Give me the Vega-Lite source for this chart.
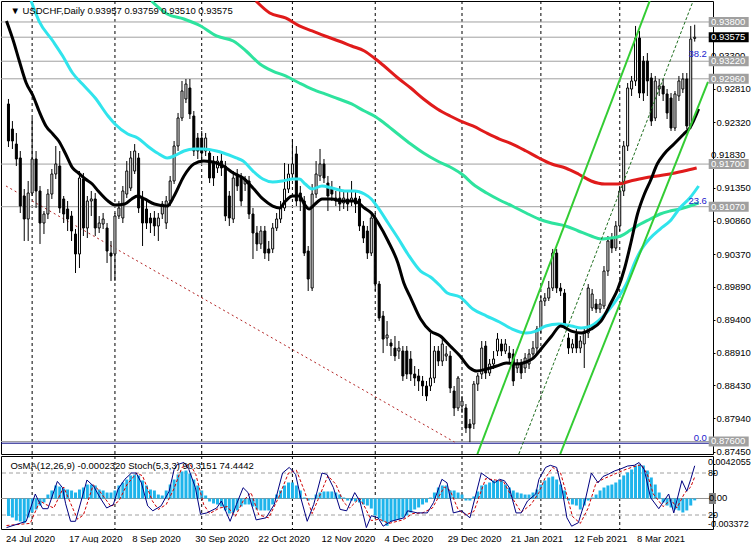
{
"$schema":"https://vega.github.io/schema/vega-lite/v6.json",
"background":"#FFFFFF",
"padding":0,
"spacing":2,
"bounds":"flush",
"config":{"view":{"stroke":"#000000","strokeWidth":1},"font":"Liberation Sans"},
"datasets":{
"months":[{"i":6},{"i":27},{"i":49},{"i":72},{"i":93},{"i":115},{"i":135},{"i":155}],
"levels":[{"p":0.938,"kind":"level"},{"p":0.93575,"kind":"bid"},{"p":0.9322,"kind":"level"},{"p":0.9296,"kind":"level"},{"p":0.917,"kind":"level"},{"p":0.9107,"kind":"level"},{"p":0.876,"kind":"level"}],
"covered":[{"p":0.933},{"p":0.9183}],
"header":[{"t":"▼ USDCHF,Daily  0.93957 0.93759 0.93510 0.93575"}],
"subheader":[{"t":"OsMA(12,26,9) -0.0002320  Stoch(5,3,3) 90.3151 74.4442"}],
"fib":[{"level":"0.0","p":0.87575},{"level":"23.6","p":0.9108},{"level":"38.2","p":0.9325}],
"trend":[{"line":"down","i":-0.625,"p":0.91376},{"line":"down","i":113.1,"p":0.87592},{"line":"chanA","i":118.9,"p":0.87415},{"line":"chanA","i":162.6,"p":0.9411},{"line":"chanB","i":139.9,"p":0.87415},{"line":"chanB","i":177.375,"p":0.92913},{"line":"chanC","i":129.4,"p":0.87415},{"line":"chanC","i":173.6,"p":0.9411}],
"candles":[
{"i":0,"o":0.92588,"h":0.92662,"l":0.91952,"c":0.92041},{"i":1,"o":0.92218,"h":0.92336,"l":0.91923,"c":0.92041},{"i":2,"o":0.91996,"h":0.92159,"l":0.91671,"c":0.91775},{"i":3,"o":0.9179,"h":0.91893,"l":0.90977,"c":0.9108},{"i":4,"o":0.91228,"h":0.91331,"l":0.90563,"c":0.90888},{"i":5,"o":0.90888,"h":0.9145,"l":0.90563,"c":0.91272},{"i":6,"o":0.91272,"h":0.92381,"l":0.91228,"c":0.91775},{"i":7,"o":0.91775,"h":0.91893,"l":0.91051,"c":0.91302},{"i":8,"o":0.91302,"h":0.91376,"l":0.90519,"c":0.90829},{"i":9,"o":0.90829,"h":0.91006,"l":0.90666,"c":0.90962},
{"i":10,"o":0.90962,"h":0.91331,"l":0.90888,"c":0.91257},{"i":11,"o":0.91257,"h":0.91627,"l":0.91184,"c":0.91553},{"i":12,"o":0.91553,"h":0.91967,"l":0.91479,"c":0.91701},{"i":13,"o":0.91671,"h":0.91893,"l":0.90977,"c":0.91051},{"i":14,"o":0.91184,"h":0.91228,"l":0.90829,"c":0.90962},{"i":15,"o":0.91036,"h":0.91154,"l":0.90711,"c":0.90888},{"i":16,"o":0.90932,"h":0.91006,"l":0.90563,"c":0.90711},{"i":17,"o":0.90666,"h":0.9074,"l":0.9009,"c":0.90371},{"i":18,"o":0.90371,"h":0.91597,"l":0.90164,"c":0.91494},{"i":19,"o":0.91479,"h":0.91568,"l":0.90637,"c":0.90755},
{"i":20,"o":0.90755,"h":0.91228,"l":0.90607,"c":0.91154},{"i":21,"o":0.91154,"h":0.91302,"l":0.90932,"c":0.91184},{"i":22,"o":0.91184,"h":0.91272,"l":0.90637,"c":0.90755},{"i":23,"o":0.90755,"h":0.90932,"l":0.90681,"c":0.90829},{"i":24,"o":0.90814,"h":0.90977,"l":0.9074,"c":0.90888},{"i":25,"o":0.90755,"h":0.90829,"l":0.90238,"c":0.90415},{"i":26,"o":0.90385,"h":0.90563,"l":0.89972,"c":0.90341},{"i":27,"o":0.90371,"h":0.90977,"l":0.89972,"c":0.90932},{"i":28,"o":0.90932,"h":0.91154,"l":0.90888,"c":0.91051},{"i":29,"o":0.90903,"h":0.91376,"l":0.90829,"c":0.91302},
{"i":30,"o":0.91257,"h":0.91745,"l":0.91198,"c":0.91597},{"i":31,"o":0.91346,"h":0.91893,"l":0.91302,"c":0.9179},{"i":32,"o":0.91597,"h":0.91996,"l":0.91553,"c":0.91893},{"i":33,"o":0.9179,"h":0.91863,"l":0.90977,"c":0.91051},{"i":34,"o":0.91198,"h":0.91302,"l":0.90489,"c":0.90829},{"i":35,"o":0.91036,"h":0.91154,"l":0.9074,"c":0.90829},{"i":36,"o":0.90903,"h":0.90977,"l":0.90681,"c":0.90829},{"i":37,"o":0.90903,"h":0.91006,"l":0.90637,"c":0.90785},{"i":38,"o":0.90785,"h":0.90977,"l":0.90563,"c":0.90903},{"i":39,"o":0.90962,"h":0.91154,"l":0.90888,"c":0.9111},
{"i":40,"o":0.90829,"h":0.91228,"l":0.9074,"c":0.91154},{"i":41,"o":0.91154,"h":0.91524,"l":0.9108,"c":0.9145},{"i":42,"o":0.9145,"h":0.92041,"l":0.91405,"c":0.91967},{"i":43,"o":0.91967,"h":0.92455,"l":0.91893,"c":0.92381},{"i":44,"o":0.92381,"h":0.92928,"l":0.92336,"c":0.9278},{"i":45,"o":0.92662,"h":0.92957,"l":0.92602,"c":0.92883},{"i":46,"o":0.92824,"h":0.92957,"l":0.92366,"c":0.9244},{"i":47,"o":0.9241,"h":0.92484,"l":0.91819,"c":0.91893},{"i":48,"o":0.92085,"h":0.92159,"l":0.91775,"c":0.91893},{"i":49,"o":0.92085,"h":0.92189,"l":0.91745,"c":0.91863},
{"i":50,"o":0.91893,"h":0.92159,"l":0.91819,"c":0.92085},{"i":51,"o":0.91863,"h":0.91923,"l":0.9142,"c":0.91494},{"i":52,"o":0.91745,"h":0.91819,"l":0.91376,"c":0.91494},{"i":53,"o":0.91642,"h":0.91819,"l":0.91568,"c":0.91745},{"i":54,"o":0.91745,"h":0.91893,"l":0.91524,"c":0.91642},{"i":55,"o":0.91671,"h":0.91745,"l":0.90858,"c":0.90932},{"i":56,"o":0.91228,"h":0.91302,"l":0.90785,"c":0.90903},{"i":57,"o":0.90888,"h":0.91597,"l":0.90829,"c":0.91494},{"i":58,"o":0.91553,"h":0.91627,"l":0.91302,"c":0.91376},{"i":59,"o":0.91494,"h":0.91568,"l":0.9108,"c":0.91154},
{"i":60,"o":0.91405,"h":0.91524,"l":0.91302,"c":0.91479},{"i":61,"o":0.9145,"h":0.91524,"l":0.90888,"c":0.90962},{"i":62,"o":0.90962,"h":0.91051,"l":0.90297,"c":0.90681},{"i":63,"o":0.90681,"h":0.90785,"l":0.90415,"c":0.90519},{"i":64,"o":0.90519,"h":0.90785,"l":0.90445,"c":0.90711},{"i":65,"o":0.90711,"h":0.90785,"l":0.90297,"c":0.90385},{"i":66,"o":0.90445,"h":0.90563,"l":0.90267,"c":0.90385},{"i":67,"o":0.90445,"h":0.90829,"l":0.90385,"c":0.90755},{"i":68,"o":0.90755,"h":0.90977,"l":0.90711,"c":0.90888},{"i":69,"o":0.90888,"h":0.91154,"l":0.90829,"c":0.91051},
{"i":70,"o":0.91051,"h":0.91716,"l":0.91006,"c":0.91331},{"i":71,"o":0.91331,"h":0.91701,"l":0.91272,"c":0.91553},{"i":72,"o":0.91553,"h":0.9207,"l":0.91479,"c":0.91701},{"i":73,"o":0.91849,"h":0.91967,"l":0.9108,"c":0.91154},{"i":74,"o":0.91272,"h":0.91376,"l":0.91006,"c":0.91154},{"i":75,"o":0.91154,"h":0.91228,"l":0.90341,"c":0.90385},{"i":76,"o":0.90415,"h":0.90489,"l":0.89824,"c":0.90001},{"i":77,"o":0.89868,"h":0.91405,"l":0.89824,"c":0.91257},{"i":78,"o":0.91257,"h":0.91745,"l":0.91198,"c":0.91553},{"i":79,"o":0.91524,"h":0.91923,"l":0.9145,"c":0.91701},
{"i":80,"o":0.91701,"h":0.91775,"l":0.9142,"c":0.91494},{"i":81,"o":0.9142,"h":0.91524,"l":0.91006,"c":0.91228},{"i":82,"o":0.91346,"h":0.9145,"l":0.91154,"c":0.91257},{"i":83,"o":0.91154,"h":0.91302,"l":0.9108,"c":0.91198},{"i":84,"o":0.91198,"h":0.91376,"l":0.91006,"c":0.9111},{"i":85,"o":0.91124,"h":0.91302,"l":0.91036,"c":0.91198},{"i":86,"o":0.91184,"h":0.91302,"l":0.91006,"c":0.9111},{"i":87,"o":0.91154,"h":0.9145,"l":0.9108,"c":0.91198},{"i":88,"o":0.91198,"h":0.91302,"l":0.90977,"c":0.9111},{"i":89,"o":0.91184,"h":0.91228,"l":0.90711,"c":0.90785},
{"i":90,"o":0.90785,"h":0.90858,"l":0.90533,"c":0.90607},{"i":91,"o":0.90711,"h":0.90785,"l":0.90297,"c":0.90385},{"i":92,"o":0.90385,"h":0.90977,"l":0.90341,"c":0.90903},{"i":93,"o":0.90903,"h":0.90977,"l":0.89824,"c":0.89927},{"i":94,"o":0.89927,"h":0.89972,"l":0.8938,"c":0.89425},{"i":95,"o":0.89454,"h":0.89528,"l":0.88907,"c":0.89114},{"i":96,"o":0.89129,"h":0.8938,"l":0.89011,"c":0.89174},{"i":97,"o":0.89055,"h":0.89114,"l":0.88863,"c":0.89011},{"i":98,"o":0.88981,"h":0.89159,"l":0.88789,"c":0.88863},{"i":99,"o":0.88937,"h":0.89085,"l":0.88819,"c":0.88981},
{"i":100,"o":0.88937,"h":0.89011,"l":0.88494,"c":0.88568},{"i":101,"o":0.88937,"h":0.89011,"l":0.88523,"c":0.88597},{"i":102,"o":0.88819,"h":0.88937,"l":0.88494,"c":0.88597},{"i":103,"o":0.88597,"h":0.88715,"l":0.8842,"c":0.88538},{"i":104,"o":0.88568,"h":0.88671,"l":0.88346,"c":0.88494},{"i":105,"o":0.88494,"h":0.88568,"l":0.88272,"c":0.8842},{"i":106,"o":0.8842,"h":0.88494,"l":0.88198,"c":0.88272},{"i":107,"o":0.8842,"h":0.89203,"l":0.88346,"c":0.88538},{"i":108,"o":0.88538,"h":0.89011,"l":0.88464,"c":0.88937},{"i":109,"o":0.88937,"h":0.89011,"l":0.88715,"c":0.88789},
{"i":110,"o":0.88789,"h":0.89159,"l":0.88715,"c":0.89041},{"i":111,"o":0.88863,"h":0.89011,"l":0.88789,"c":0.88893},{"i":112,"o":0.88863,"h":0.88937,"l":0.88316,"c":0.8839},{"i":113,"o":0.88346,"h":0.8842,"l":0.87976,"c":0.88095},{"i":114,"o":0.88095,"h":0.88568,"l":0.8805,"c":0.88538},{"i":115,"o":0.88124,"h":0.88272,"l":0.88021,"c":0.88198},{"i":116,"o":0.88095,"h":0.88154,"l":0.87725,"c":0.87799},{"i":117,"o":0.87858,"h":0.87932,"l":0.8759,"c":0.87799},{"i":118,"o":0.87858,"h":0.88494,"l":0.87784,"c":0.88449},{"i":119,"o":0.88449,"h":0.88612,"l":0.88346,"c":0.88568},
{"i":120,"o":0.88597,"h":0.89085,"l":0.88523,"c":0.88981},{"i":121,"o":0.89011,"h":0.89085,"l":0.88523,"c":0.88612},{"i":122,"o":0.88612,"h":0.88819,"l":0.88568,"c":0.88745},{"i":123,"o":0.88745,"h":0.88937,"l":0.88671,"c":0.88819},{"i":124,"o":0.88937,"h":0.89203,"l":0.88863,"c":0.89114},{"i":125,"o":0.89041,"h":0.89114,"l":0.88863,"c":0.88937},{"i":126,"o":0.88937,"h":0.89114,"l":0.88893,"c":0.89041},{"i":127,"o":0.88907,"h":0.89011,"l":0.8876,"c":0.88834},{"i":128,"o":0.88893,"h":0.88967,"l":0.8842,"c":0.88494},{"i":129,"o":0.88686,"h":0.88819,"l":0.88612,"c":0.8876},
{"i":130,"o":0.88745,"h":0.88819,"l":0.88523,"c":0.88612},{"i":131,"o":0.88686,"h":0.88907,"l":0.88612,"c":0.88834},{"i":132,"o":0.88745,"h":0.88967,"l":0.88671,"c":0.88893},{"i":133,"o":0.88893,"h":0.89085,"l":0.88819,"c":0.88981},{"i":134,"o":0.88981,"h":0.89307,"l":0.88907,"c":0.89262},{"i":135,"o":0.89262,"h":0.8975,"l":0.89203,"c":0.89676},{"i":136,"o":0.89676,"h":0.89794,"l":0.89602,"c":0.8972},{"i":137,"o":0.8972,"h":0.89972,"l":0.89676,"c":0.89868},{"i":138,"o":0.89868,"h":0.90445,"l":0.89824,"c":0.90385},{"i":139,"o":0.90385,"h":0.90445,"l":0.89794,"c":0.89868},
{"i":140,"o":0.89868,"h":0.89942,"l":0.8975,"c":0.89824},{"i":141,"o":0.89794,"h":0.89853,"l":0.89262,"c":0.89336},{"i":142,"o":0.89129,"h":0.89203,"l":0.88893,"c":0.88981},{"i":143,"o":0.88981,"h":0.89114,"l":0.88907,"c":0.89041},{"i":144,"o":0.89188,"h":0.89262,"l":0.88907,"c":0.88981},{"i":145,"o":0.88981,"h":0.89159,"l":0.88907,"c":0.89085},{"i":146,"o":0.89041,"h":0.89262,"l":0.88686,"c":0.89203},{"i":147,"o":0.89203,"h":0.89927,"l":0.89129,"c":0.89868},{"i":148,"o":0.89573,"h":0.89853,"l":0.89528,"c":0.8978},{"i":149,"o":0.89632,"h":0.89706,"l":0.89499,"c":0.89558},
{"i":150,"o":0.89558,"h":0.89706,"l":0.89499,"c":0.89632},{"i":151,"o":0.89602,"h":0.90193,"l":0.89558,"c":0.90119},{"i":152,"o":0.90119,"h":0.90637,"l":0.90046,"c":0.90563},{"i":153,"o":0.90592,"h":0.90681,"l":0.90385,"c":0.90459},{"i":154,"o":0.90459,"h":0.90858,"l":0.90415,"c":0.90785},{"i":155,"o":0.90785,"h":0.91376,"l":0.90711,"c":0.91302},{"i":156,"o":0.91302,"h":0.92041,"l":0.91228,"c":0.91967},{"i":157,"o":0.91967,"h":0.92898,"l":0.91893,"c":0.92824},{"i":158,"o":0.92809,"h":0.93002,"l":0.92706,"c":0.92928},{"i":159,"o":0.92928,"h":0.93741,"l":0.92854,"c":0.93563},
{"i":160,"o":0.93563,"h":0.93667,"l":0.92676,"c":0.9275},{"i":161,"o":0.93223,"h":0.93297,"l":0.92632,"c":0.9275},{"i":162,"o":0.93223,"h":0.93341,"l":0.92706,"c":0.92928},{"i":163,"o":0.92972,"h":0.93046,"l":0.92263,"c":0.92336},{"i":164,"o":0.92381,"h":0.93002,"l":0.92336,"c":0.92928},{"i":165,"o":0.92809,"h":0.92957,"l":0.92706,"c":0.92854},{"i":166,"o":0.92854,"h":0.92957,"l":0.92632,"c":0.92736},{"i":167,"o":0.92736,"h":0.92809,"l":0.92366,"c":0.92455},{"i":168,"o":0.92676,"h":0.9275,"l":0.92189,"c":0.92233},{"i":169,"o":0.92233,"h":0.9278,"l":0.92189,"c":0.92736},
{"i":170,"o":0.92706,"h":0.93002,"l":0.92632,"c":0.92928},{"i":171,"o":0.92809,"h":0.93046,"l":0.9275,"c":0.92957},{"i":172,"o":0.92957,"h":0.93046,"l":0.92218,"c":0.92263},{"i":173,"o":0.92263,"h":0.93741,"l":0.92218,"c":0.93548},{"i":174,"o":0.93557,"h":0.93759,"l":0.9351,"c":0.93575}
],
"ma":[
{"line":"EMA20","i":-0.5,"p":0.93814},{"line":"EMA20","i":1.25,"p":0.93519},{"line":"EMA20","i":2.75,"p":0.93223},{"line":"EMA20","i":4.5,"p":0.92898},{"line":"EMA20","i":6.25,"p":0.92706},{"line":"EMA20","i":7.75,"p":0.92484},{"line":"EMA20","i":9.5,"p":0.92263},{"line":"EMA20","i":11.25,"p":0.92144},{"line":"EMA20","i":12.75,"p":0.92041},{"line":"EMA20","i":14.5,"p":0.91849},{"line":"EMA20","i":16.25,"p":0.91642},{"line":"EMA20","i":17.75,"p":0.91568},{"line":"EMA20","i":19.5,"p":0.91479},{"line":"EMA20","i":21.25,"p":0.91405},{"line":"EMA20","i":22.75,"p":0.91302},{"line":"EMA20","i":25.25,"p":0.91154},{"line":"EMA20","i":27,"p":0.91095},{"line":"EMA20","i":29.5,"p":0.9111},{"line":"EMA20","i":31.25,"p":0.91184},{"line":"EMA20","i":32.75,"p":0.91228},{"line":"EMA20","i":34.5,"p":0.91184},{"line":"EMA20","i":37,"p":0.9111},{"line":"EMA20","i":40.25,"p":0.9108},{"line":"EMA20","i":42,"p":0.91228},{"line":"EMA20","i":44.5,"p":0.91524},{"line":"EMA20","i":47,"p":0.91701},{"line":"EMA20","i":49.5,"p":0.91745},{"line":"EMA20","i":52.75,"p":0.91716},{"line":"EMA20","i":54.5,"p":0.91671},{"line":"EMA20","i":57,"p":0.91568},{"line":"EMA20","i":59.5,"p":0.91494},{"line":"EMA20","i":62,"p":0.91346},{"line":"EMA20","i":64.5,"p":0.91184},{"line":"EMA20","i":67,"p":0.9108},{"line":"EMA20","i":68.75,"p":0.91051},{"line":"EMA20","i":70.25,"p":0.91154},{"line":"EMA20","i":72,"p":0.91228},{"line":"EMA20","i":73.75,"p":0.91228},{"line":"EMA20","i":75,"p":0.9111},{"line":"EMA20","i":76.25,"p":0.91036},{"line":"EMA20","i":77.75,"p":0.9111},{"line":"EMA20","i":79.5,"p":0.91184},{"line":"EMA20","i":82,"p":0.91184},{"line":"EMA20","i":84.5,"p":0.91154},{"line":"EMA20","i":87.75,"p":0.91154},{"line":"EMA20","i":90.25,"p":0.91051},{"line":"EMA20","i":92,"p":0.90977},{"line":"EMA20","i":93.75,"p":0.90829},{"line":"EMA20","i":96.25,"p":0.90563},{"line":"EMA20","i":98.75,"p":0.90238},{"line":"EMA20","i":100.25,"p":0.89942},{"line":"EMA20","i":102,"p":0.8972},{"line":"EMA20","i":104.5,"p":0.8941},{"line":"EMA20","i":107,"p":0.89232},{"line":"EMA20","i":109.5,"p":0.89159},{"line":"EMA20","i":112,"p":0.89011},{"line":"EMA20","i":114.5,"p":0.88863},{"line":"EMA20","i":117,"p":0.88686},{"line":"EMA20","i":118.75,"p":0.88641},{"line":"EMA20","i":121.25,"p":0.88671},{"line":"EMA20","i":123.75,"p":0.88715},{"line":"EMA20","i":126.25,"p":0.8876},{"line":"EMA20","i":128.75,"p":0.88745},{"line":"EMA20","i":132.75,"p":0.88819},{"line":"EMA20","i":135.25,"p":0.88981},{"line":"EMA20","i":137.75,"p":0.89159},{"line":"EMA20","i":140,"p":0.89307},{"line":"EMA20","i":142.75,"p":0.89232},{"line":"EMA20","i":145.25,"p":0.89203},{"line":"EMA20","i":147.75,"p":0.89262},{"line":"EMA20","i":150.25,"p":0.8938},{"line":"EMA20","i":152.75,"p":0.89646},{"line":"EMA20","i":154.5,"p":0.89853},{"line":"EMA20","i":156.25,"p":0.90164},{"line":"EMA20","i":157.75,"p":0.90519},{"line":"EMA20","i":159.5,"p":0.90962},{"line":"EMA20","i":161.25,"p":0.91257},{"line":"EMA20","i":162.75,"p":0.9145},{"line":"EMA20","i":164.5,"p":0.91701},{"line":"EMA20","i":166.25,"p":0.91849},{"line":"EMA20","i":168.75,"p":0.91996},{"line":"EMA20","i":171.25,"p":0.92144},{"line":"EMA20","i":172.75,"p":0.92233},{"line":"EMA20","i":175,"p":0.92514},
{"line":"EMA50","i":5.75,"p":0.9411},{"line":"EMA50","i":7.75,"p":0.93814},{"line":"EMA50","i":11.25,"p":0.93519},{"line":"EMA50","i":13.75,"p":0.93297},{"line":"EMA50","i":16.25,"p":0.93046},{"line":"EMA50","i":18.75,"p":0.92883},{"line":"EMA50","i":22,"p":0.92676},{"line":"EMA50","i":25.25,"p":0.9241},{"line":"EMA50","i":27,"p":0.92292},{"line":"EMA50","i":30.25,"p":0.92144},{"line":"EMA50","i":32.75,"p":0.92085},{"line":"EMA50","i":35.25,"p":0.91967},{"line":"EMA50","i":37.75,"p":0.91863},{"line":"EMA50","i":40.25,"p":0.9179},{"line":"EMA50","i":42,"p":0.91819},{"line":"EMA50","i":44.5,"p":0.91893},{"line":"EMA50","i":47,"p":0.91923},{"line":"EMA50","i":49.5,"p":0.91923},{"line":"EMA50","i":52.75,"p":0.91893},{"line":"EMA50","i":54.5,"p":0.91863},{"line":"EMA50","i":57.75,"p":0.9179},{"line":"EMA50","i":59.5,"p":0.91745},{"line":"EMA50","i":62,"p":0.91597},{"line":"EMA50","i":64.5,"p":0.91479},{"line":"EMA50","i":67,"p":0.91435},{"line":"EMA50","i":69.5,"p":0.9145},{"line":"EMA50","i":72,"p":0.91479},{"line":"EMA50","i":73.75,"p":0.91479},{"line":"EMA50","i":75.25,"p":0.91405},{"line":"EMA50","i":77,"p":0.91331},{"line":"EMA50","i":79.5,"p":0.91376},{"line":"EMA50","i":82,"p":0.91346},{"line":"EMA50","i":85.25,"p":0.91302},{"line":"EMA50","i":87.75,"p":0.91302},{"line":"EMA50","i":90.25,"p":0.91257},{"line":"EMA50","i":92,"p":0.91184},{"line":"EMA50","i":93.75,"p":0.91051},{"line":"EMA50","i":96.25,"p":0.90829},{"line":"EMA50","i":98.75,"p":0.90607},{"line":"EMA50","i":101.25,"p":0.90371},{"line":"EMA50","i":104.5,"p":0.90119},{"line":"EMA50","i":107,"p":0.90031},{"line":"EMA50","i":109.5,"p":0.89898},{"line":"EMA50","i":111.25,"p":0.89794},{"line":"EMA50","i":114.5,"p":0.89735},{"line":"EMA50","i":117.75,"p":0.89558},{"line":"EMA50","i":121.25,"p":0.89454},{"line":"EMA50","i":124.5,"p":0.89366},{"line":"EMA50","i":127.75,"p":0.89262},{"line":"EMA50","i":131.25,"p":0.89203},{"line":"EMA50","i":133.75,"p":0.89232},{"line":"EMA50","i":136.25,"p":0.89307},{"line":"EMA50","i":139.5,"p":0.89336},{"line":"EMA50","i":142.75,"p":0.89307},{"line":"EMA50","i":145.25,"p":0.89277},{"line":"EMA50","i":147.75,"p":0.89307},{"line":"EMA50","i":149.5,"p":0.8938},{"line":"EMA50","i":152,"p":0.89528},{"line":"EMA50","i":154.5,"p":0.8972},{"line":"EMA50","i":157,"p":0.89972},{"line":"EMA50","i":158.75,"p":0.90238},{"line":"EMA50","i":160.25,"p":0.90415},{"line":"EMA50","i":162.75,"p":0.90607},{"line":"EMA50","i":165.25,"p":0.9074},{"line":"EMA50","i":167.75,"p":0.90858},{"line":"EMA50","i":170.25,"p":0.91051},{"line":"EMA50","i":172.75,"p":0.91198},{"line":"EMA50","i":175,"p":0.91376},
{"line":"EMA144","i":36.25,"p":0.9411},{"line":"EMA144","i":40.25,"p":0.93918},{"line":"EMA144","i":44.5,"p":0.93844},{"line":"EMA144","i":48.75,"p":0.93741},{"line":"EMA144","i":52.75,"p":0.93593},{"line":"EMA144","i":57,"p":0.93519},{"line":"EMA144","i":60.25,"p":0.93371},{"line":"EMA144","i":63.75,"p":0.93179},{"line":"EMA144","i":67,"p":0.93075},{"line":"EMA144","i":70.25,"p":0.93002},{"line":"EMA144","i":73.75,"p":0.92898},{"line":"EMA144","i":77,"p":0.92809},{"line":"EMA144","i":80.25,"p":0.92736},{"line":"EMA144","i":83.75,"p":0.92662},{"line":"EMA144","i":87,"p":0.92588},{"line":"EMA144","i":90.25,"p":0.92484},{"line":"EMA144","i":92.75,"p":0.9241},{"line":"EMA144","i":95.25,"p":0.92307},{"line":"EMA144","i":98.75,"p":0.92144},{"line":"EMA144","i":102,"p":0.91996},{"line":"EMA144","i":105.25,"p":0.91863},{"line":"EMA144","i":108.75,"p":0.91745},{"line":"EMA144","i":112,"p":0.91657},{"line":"EMA144","i":115.25,"p":0.91538},{"line":"EMA144","i":117.75,"p":0.91405},{"line":"EMA144","i":121.25,"p":0.91272},{"line":"EMA144","i":124.5,"p":0.91169},{"line":"EMA144","i":127.75,"p":0.9108},{"line":"EMA144","i":131.25,"p":0.90977},{"line":"EMA144","i":134.5,"p":0.90888},{"line":"EMA144","i":137.75,"p":0.90829},{"line":"EMA144","i":141.25,"p":0.90785},{"line":"EMA144","i":144.5,"p":0.90711},{"line":"EMA144","i":147.75,"p":0.90637},{"line":"EMA144","i":150.25,"p":0.90592},{"line":"EMA144","i":152.75,"p":0.90607},{"line":"EMA144","i":155.25,"p":0.90637},{"line":"EMA144","i":157.75,"p":0.90725},{"line":"EMA144","i":160.25,"p":0.90814},{"line":"EMA144","i":162.75,"p":0.90888},{"line":"EMA144","i":165.25,"p":0.90962},{"line":"EMA144","i":167.75,"p":0.91006},{"line":"EMA144","i":170.25,"p":0.91036},{"line":"EMA144","i":172.75,"p":0.9108},{"line":"EMA144","i":175,"p":0.91124},
{"line":"EMA200","i":62.75,"p":0.9411},{"line":"EMA200","i":66.25,"p":0.93933},{"line":"EMA200","i":70.25,"p":0.93859},{"line":"EMA200","i":73.75,"p":0.93741},{"line":"EMA200","i":77,"p":0.93667},{"line":"EMA200","i":80.25,"p":0.93593},{"line":"EMA200","i":83.75,"p":0.93519},{"line":"EMA200","i":87,"p":0.93445},{"line":"EMA200","i":90.25,"p":0.93371},{"line":"EMA200","i":92.75,"p":0.93268},{"line":"EMA200","i":95.25,"p":0.93149},{"line":"EMA200","i":98.75,"p":0.92972},{"line":"EMA200","i":102,"p":0.92824},{"line":"EMA200","i":105.25,"p":0.92662},{"line":"EMA200","i":108.75,"p":0.92514},{"line":"EMA200","i":112,"p":0.9241},{"line":"EMA200","i":114.5,"p":0.9234},{"line":"EMA200","i":117.75,"p":0.92263},{"line":"EMA200","i":121.25,"p":0.92159},{"line":"EMA200","i":124.5,"p":0.9207},{"line":"EMA200","i":127.75,"p":0.91996},{"line":"EMA200","i":131.25,"p":0.91893},{"line":"EMA200","i":134.5,"p":0.9179},{"line":"EMA200","i":137.75,"p":0.91701},{"line":"EMA200","i":141.25,"p":0.91642},{"line":"EMA200","i":144.5,"p":0.91553},{"line":"EMA200","i":147.75,"p":0.9145},{"line":"EMA200","i":151.25,"p":0.91405},{"line":"EMA200","i":154.5,"p":0.91405},{"line":"EMA200","i":157.75,"p":0.9145},{"line":"EMA200","i":161.25,"p":0.91494},{"line":"EMA200","i":164.5,"p":0.91524},{"line":"EMA200","i":167.75,"p":0.91553},{"line":"EMA200","i":171.25,"p":0.91597},{"line":"EMA200","i":174.5,"p":0.91642}
],
"osma":[
{"i":0,"v":-0.00216},{"i":1,"v":-0.00235},{"i":2,"v":-0.00272},{"i":3,"v":-0.00285},{"i":4,"v":-0.00305},{"i":5,"v":-0.00235},{"i":6,"v":-0.00173},{"i":7,"v":-0.00136},{"i":8,"v":-0.00087},{"i":9,"v":-0.00049},
{"i":10,"v":0.00049},{"i":11,"v":0.00099},{"i":12,"v":0.00161},{"i":13,"v":0.00148},{"i":14,"v":0.00124},{"i":15,"v":0.00111},{"i":16,"v":0.00099},{"i":17,"v":0.00074},{"i":18,"v":0.00111},{"i":19,"v":0.00136},
{"i":20,"v":0.00173},{"i":21,"v":0.00173},{"i":22,"v":0.00161},{"i":23,"v":0.00111},{"i":24,"v":0.00099},{"i":25,"v":0.00074},{"i":26,"v":0.00074},{"i":27,"v":0.00099},{"i":28,"v":0.00161},{"i":29,"v":0.00198},
{"i":30,"v":0.00235},{"i":31,"v":0.00285},{"i":32,"v":0.00297},{"i":33,"v":0.00285},{"i":34,"v":0.00223},{"i":35,"v":0.00161},{"i":36,"v":0.00111},{"i":37,"v":0.00099},{"i":38,"v":0.00049},{"i":39,"v":0.00037},
{"i":40,"v":0.00099},{"i":41,"v":0.00173},{"i":42,"v":0.00235},{"i":43,"v":0.00297},{"i":44,"v":0.00334},{"i":45,"v":0.00346},{"i":46,"v":0.00309},{"i":47,"v":0.00235},{"i":48,"v":0.00161},{"i":49,"v":0.00099},
{"i":50,"v":0.00037},{"i":51,"v":-0.00037},{"i":52,"v":-0.00062},{"i":53,"v":-0.00074},{"i":54,"v":-0.00099},{"i":55,"v":-0.00148},{"i":56,"v":-0.00186},{"i":57,"v":-0.00173},{"i":58,"v":-0.00148},{"i":59,"v":-0.00099},
{"i":60,"v":-0.00074},{"i":61,"v":-0.00074},{"i":62,"v":-0.00099},{"i":63,"v":-0.00136},{"i":64,"v":-0.00148},{"i":65,"v":-0.00148},{"i":66,"v":-0.00148},{"i":67,"v":-0.00074},{"i":68,"v":0.00049},{"i":69,"v":0.00099},
{"i":70,"v":0.00161},{"i":71,"v":0.00198},{"i":72,"v":0.00198},{"i":73,"v":0.00161},{"i":74,"v":0.00099},{"i":75,"v":0.00012},{"i":76,"v":-0.00025},{"i":77,"v":-0.00012},{"i":78,"v":0.00049},{"i":79,"v":0.00074},
{"i":80,"v":0.00087},{"i":81,"v":0.00087},{"i":82,"v":0.00087},{"i":83,"v":0.00074},{"i":84,"v":0.00049},{"i":85,"v":0.00012},{"i":86,"v":-0.00025},{"i":87,"v":-0.00025},{"i":88,"v":-0.00037},{"i":89,"v":-0.00049},
{"i":90,"v":-0.00074},{"i":91,"v":-0.00087},{"i":92,"v":-0.00124},{"i":93,"v":-0.0021},{"i":94,"v":-0.00247},{"i":95,"v":-0.00285},{"i":96,"v":-0.003372},{"i":97,"v":-0.00285},{"i":98,"v":-0.00272},{"i":99,"v":-0.0026},
{"i":100,"v":-0.00235},{"i":101,"v":-0.0021},{"i":102,"v":-0.00173},{"i":103,"v":-0.00136},{"i":104,"v":-0.00111},{"i":105,"v":-0.00074},{"i":106,"v":-0.00049},{"i":107,"v":0.00012},{"i":108,"v":0.00074},{"i":109,"v":0.00136},
{"i":110,"v":0.00161},{"i":111,"v":0.00161},{"i":112,"v":0.00099},{"i":113,"v":0.00099},{"i":114,"v":0.00074},{"i":115,"v":0.00049},{"i":116,"v":-0.00025},{"i":117,"v":-0.00025},{"i":118,"v":0.00025},{"i":119,"v":0.00087},
{"i":120,"v":0.00161},{"i":121,"v":0.00173},{"i":122,"v":0.00198},{"i":123,"v":0.00223},{"i":124,"v":0.00223},{"i":125,"v":0.00223},{"i":126,"v":0.00173},{"i":127,"v":0.00136},{"i":128,"v":0.00099},{"i":129,"v":0.00074},
{"i":130,"v":0.00062},{"i":131,"v":0.00049},{"i":132,"v":0.00049},{"i":133,"v":0.00074},{"i":134,"v":0.00111},{"i":135,"v":0.00173},{"i":136,"v":0.00223},{"i":137,"v":0.0026},{"i":138,"v":0.00272},{"i":139,"v":0.00235},
{"i":140,"v":0.00173},{"i":141,"v":0.00099},{"i":142,"v":-0.00025},{"i":143,"v":-0.00074},{"i":144,"v":-0.00087},{"i":145,"v":-0.00136},{"i":146,"v":-0.00087},{"i":147,"v":-0.00025},{"i":148,"v":0.00012},{"i":149,"v":0.00049},
{"i":150,"v":0.00099},{"i":151,"v":0.00136},{"i":152,"v":0.00161},{"i":153,"v":0.00173},{"i":154,"v":0.00198},{"i":155,"v":0.00235},{"i":156,"v":0.00285},{"i":157,"v":0.00322},{"i":158,"v":0.00359},{"i":159,"v":0.00408},
{"i":160,"v":0.0042055},{"i":161,"v":0.00408},{"i":162,"v":0.00346},{"i":163,"v":0.0026},{"i":164,"v":0.00173},{"i":165,"v":0.00074},{"i":166,"v":-0.00049},{"i":167,"v":-0.00087},{"i":168,"v":-0.00111},{"i":169,"v":-0.00136},
{"i":170,"v":-0.00148},{"i":171,"v":-0.00173},{"i":172,"v":-0.00148},{"i":173,"v":-0.00087},{"i":174,"v":-0.000232}
],
"stoch":[
{"line":"main","i":-0.5,"s":2},{"line":"main","i":4.5,"s":11},{"line":"main","i":6.8,"s":50},{"line":"main","i":7.8,"s":38},{"line":"main","i":8.7,"s":29},{"line":"main","i":10,"s":29},{"line":"main","i":12.4,"s":68},{"line":"main","i":13.7,"s":59},{"line":"main","i":14.5,"s":36},{"line":"main","i":15.75,"s":11},{"line":"main","i":17,"s":11},{"line":"main","i":19.9,"s":70},{"line":"main","i":21.6,"s":61},{"line":"main","i":23.2,"s":45},{"line":"main","i":24.9,"s":30},{"line":"main","i":26.6,"s":35},{"line":"main","i":27.8,"s":57},{"line":"main","i":29.5,"s":71},{"line":"main","i":31.2,"s":80},{"line":"main","i":32.4,"s":80},{"line":"main","i":33.7,"s":66},{"line":"main","i":35.3,"s":33},{"line":"main","i":36.6,"s":26},{"line":"main","i":38.7,"s":33},{"line":"main","i":40.75,"s":54},{"line":"main","i":42,"s":85},{"line":"main","i":42.8,"s":92},{"line":"main","i":44.5,"s":95},{"line":"main","i":45.75,"s":85},{"line":"main","i":47.4,"s":59},{"line":"main","i":48.7,"s":21},{"line":"main","i":50.3,"s":23},{"line":"main","i":52.8,"s":30},{"line":"main","i":54,"s":40},{"line":"main","i":56.2,"s":11},{"line":"main","i":57.8,"s":35},{"line":"main","i":59.5,"s":59},{"line":"main","i":60.75,"s":52},{"line":"main","i":62.8,"s":13},{"line":"main","i":65.3,"s":16},{"line":"main","i":67.4,"s":35},{"line":"main","i":69.5,"s":80},{"line":"main","i":71.2,"s":88},{"line":"main","i":72.8,"s":78},{"line":"main","i":74.1,"s":45},{"line":"main","i":75.75,"s":11},{"line":"main","i":77.4,"s":35},{"line":"main","i":79.5,"s":80},{"line":"main","i":80.75,"s":78},{"line":"main","i":82.4,"s":59},{"line":"main","i":84.1,"s":28},{"line":"main","i":85.75,"s":26},{"line":"main","i":87.8,"s":52},{"line":"main","i":89.1,"s":40},{"line":"main","i":90.75,"s":2},{"line":"main","i":92,"s":19},{"line":"main","i":93.7,"s":16},{"line":"main","i":95,"s":4},{"line":"main","i":97,"s":11},{"line":"main","i":100.3,"s":16},{"line":"main","i":101.2,"s":26},{"line":"main","i":103.7,"s":23},{"line":"main","i":106.2,"s":23},{"line":"main","i":107.8,"s":38},{"line":"main","i":109.9,"s":71},{"line":"main","i":111.2,"s":66},{"line":"main","i":112.8,"s":23},{"line":"main","i":114.9,"s":26},{"line":"main","i":117,"s":16},{"line":"main","i":119.9,"s":80},{"line":"main","i":121.6,"s":73},{"line":"main","i":123.25,"s":66},{"line":"main","i":124.5,"s":71},{"line":"main","i":125.75,"s":69},{"line":"main","i":127,"s":59},{"line":"main","i":128.7,"s":23},{"line":"main","i":130,"s":23},{"line":"main","i":131.6,"s":40},{"line":"main","i":133.7,"s":50},{"line":"main","i":134.5,"s":71},{"line":"main","i":136.2,"s":88},{"line":"main","i":137.4,"s":91},{"line":"main","i":139,"s":88},{"line":"main","i":140.3,"s":59},{"line":"main","i":141.6,"s":16},{"line":"main","i":142.8,"s":4},{"line":"main","i":144.5,"s":9},{"line":"main","i":146.2,"s":40},{"line":"main","i":147.8,"s":80},{"line":"main","i":149.5,"s":66},{"line":"main","i":150.75,"s":75},{"line":"main","i":152,"s":78},{"line":"main","i":153.7,"s":83},{"line":"main","i":155.3,"s":86},{"line":"main","i":157,"s":90},{"line":"main","i":158.7,"s":91},{"line":"main","i":159.9,"s":95},{"line":"main","i":161.2,"s":85},{"line":"main","i":162.8,"s":45},{"line":"main","i":164.9,"s":29},{"line":"main","i":167.4,"s":50},{"line":"main","i":168.7,"s":23},{"line":"main","i":170.75,"s":69},{"line":"main","i":172,"s":54},{"line":"main","i":173,"s":71},{"line":"main","i":174,"s":90.3},
{"line":"signal","i":-0.5,"s":5},{"line":"signal","i":5.5,"s":8},{"line":"signal","i":8,"s":40},{"line":"signal","i":9.5,"s":35},{"line":"signal","i":11.5,"s":30},{"line":"signal","i":14,"s":60},{"line":"signal","i":15.5,"s":40},{"line":"signal","i":17.5,"s":14},{"line":"signal","i":19,"s":20},{"line":"signal","i":21.5,"s":63},{"line":"signal","i":23,"s":55},{"line":"signal","i":26,"s":32},{"line":"signal","i":28,"s":40},{"line":"signal","i":30,"s":63},{"line":"signal","i":32.5,"s":80},{"line":"signal","i":34,"s":76},{"line":"signal","i":36.5,"s":40},{"line":"signal","i":38,"s":28},{"line":"signal","i":40,"s":35},{"line":"signal","i":42,"s":58},{"line":"signal","i":44,"s":88},{"line":"signal","i":46,"s":93},{"line":"signal","i":47.5,"s":78},{"line":"signal","i":49.5,"s":35},{"line":"signal","i":51,"s":22},{"line":"signal","i":53.5,"s":30},{"line":"signal","i":55.5,"s":32},{"line":"signal","i":57.5,"s":18},{"line":"signal","i":59.5,"s":40},{"line":"signal","i":61.5,"s":52},{"line":"signal","i":63.5,"s":20},{"line":"signal","i":66,"s":16},{"line":"signal","i":68.5,"s":45},{"line":"signal","i":71,"s":80},{"line":"signal","i":73,"s":84},{"line":"signal","i":75,"s":55},{"line":"signal","i":77,"s":22},{"line":"signal","i":78.5,"s":42},{"line":"signal","i":81,"s":76},{"line":"signal","i":83,"s":64},{"line":"signal","i":85,"s":38},{"line":"signal","i":86.5,"s":30},{"line":"signal","i":89,"s":44},{"line":"signal","i":90.5,"s":30},{"line":"signal","i":92,"s":12},{"line":"signal","i":94,"s":14},{"line":"signal","i":96.5,"s":8},{"line":"signal","i":100,"s":13},{"line":"signal","i":102.5,"s":22},{"line":"signal","i":105,"s":23},{"line":"signal","i":107.5,"s":30},{"line":"signal","i":110.5,"s":60},{"line":"signal","i":112,"s":55},{"line":"signal","i":114,"s":28},{"line":"signal","i":116,"s":20},{"line":"signal","i":118,"s":25},{"line":"signal","i":121,"s":72},{"line":"signal","i":123.5,"s":70},{"line":"signal","i":125.5,"s":68},{"line":"signal","i":128,"s":42},{"line":"signal","i":130,"s":24},{"line":"signal","i":132.5,"s":35},{"line":"signal","i":134.5,"s":52},{"line":"signal","i":136,"s":72},{"line":"signal","i":138,"s":88},{"line":"signal","i":140,"s":80},{"line":"signal","i":141.5,"s":50},{"line":"signal","i":143,"s":18},{"line":"signal","i":145,"s":8},{"line":"signal","i":147,"s":30},{"line":"signal","i":149,"s":66},{"line":"signal","i":151,"s":72},{"line":"signal","i":153.5,"s":78},{"line":"signal","i":156,"s":84},{"line":"signal","i":158.5,"s":89},{"line":"signal","i":160.5,"s":92},{"line":"signal","i":162,"s":78},{"line":"signal","i":163.5,"s":50},{"line":"signal","i":166,"s":32},{"line":"signal","i":168,"s":42},{"line":"signal","i":169.5,"s":30},{"line":"signal","i":171.5,"s":52},{"line":"signal","i":173,"s":60},{"line":"signal","i":174,"s":74.4}
],
"stochlevels":[{"s":80},{"s":20}],
"zero":[{"v":0}],
"indlabels":[{"s":96,"t":"0.0042055"},{"s":80.5,"t":"80"},{"s":20.5,"t":"20"},{"s":7.5,"t":"-0.003372"}]
},
"vconcat":[
{
"width":712,"height":453,
"resolve":{"scale":{"y":"independent"},"axis":{"y":"independent"}},
"layer":[
{"data":{"name":"months"},"mark":{"type":"rule","color":"#000000","strokeWidth":1,"strokeDash":[3,3]},"encoding":{"x":{"field":"i","type":"quantitative","scale":{"domain":[-0.625,177.375],"nice":false,"zero":false},"axis":null}}},
{"data":{"name":"levels"},"mark":{"type":"rule","color":"#A0A0A0","strokeWidth":1},"encoding":{"y":{"field":"p","type":"quantitative","scale":{"domain":[0.87415,0.9411],"nice":false,"zero":false},"axis":{"orient":"right","values":[0.9281,0.9232,0.9135,0.9086,0.9037,0.8989,0.894,0.8891,0.8843,0.8794,0.8745],"format":".5f","title":null,"tickSize":2,"labelPadding":1,"labelFontSize":9.5,"labelFont":"Liberation Sans","labelColor":"#000000","tickColor":"#000000","domain":false,"grid":false,"labelOverlap":false,"labelBound":false,"labelFlush":false,"zindex":0}}}},
{"data":{"name":"fib"},"transform":[{"filter":"datum.level == '0.0'"}],"mark":{"type":"rule","color":"#000080","strokeWidth":1},"encoding":{"y":{"field":"p","type":"quantitative","scale":{"domain":[0.87415,0.9411],"nice":false,"zero":false},"axis":null}}},
{"data":{"name":"trend"},"transform":[{"filter":"datum.line == 'down'"}],"mark":{"type":"line","color":"#B22222","strokeWidth":1,"strokeDash":[2,3],"clip":true},"encoding":{"x":{"field":"i","type":"quantitative","scale":{"domain":[-0.625,177.375],"nice":false,"zero":false},"axis":null},"y":{"field":"p","type":"quantitative","scale":{"domain":[0.87415,0.9411],"nice":false,"zero":false},"axis":null}}},
{"data":{"name":"candles"},"mark":{"type":"rule","color":"#000000","strokeWidth":1},"encoding":{"x":{"field":"i","type":"quantitative","scale":{"domain":[-0.625,177.375],"nice":false,"zero":false},"axis":null},"y":{"field":"l","type":"quantitative","scale":{"domain":[0.87415,0.9411],"nice":false,"zero":false},"axis":null},"y2":{"field":"h"}}},
{"data":{"name":"candles"},"mark":{"type":"bar","size":2,"stroke":"#000000","strokeWidth":1},"encoding":{"x":{"field":"i","type":"quantitative","scale":{"domain":[-0.625,177.375],"nice":false,"zero":false},"axis":null},"y":{"field":"o","type":"quantitative","scale":{"domain":[0.87415,0.9411],"nice":false,"zero":false},"axis":null},"y2":{"field":"c"},"fill":{"condition":{"test":"datum.c >= datum.o","value":"#FFFFFF"},"value":"#000000"}}},
{"data":{"name":"ma"},"transform":[{"filter":"datum.line == 'EMA200'"}],"mark":{"type":"line","color":"#E01B1B","strokeWidth":3,"interpolate":"monotone","clip":true},"encoding":{"x":{"field":"i","type":"quantitative","scale":{"domain":[-0.625,177.375],"nice":false,"zero":false},"axis":null},"y":{"field":"p","type":"quantitative","scale":{"domain":[0.87415,0.9411],"nice":false,"zero":false},"axis":null}}},
{"data":{"name":"ma"},"transform":[{"filter":"datum.line == 'EMA144'"}],"mark":{"type":"line","color":"#2EE39E","strokeWidth":3,"interpolate":"monotone","clip":true},"encoding":{"x":{"field":"i","type":"quantitative","scale":{"domain":[-0.625,177.375],"nice":false,"zero":false},"axis":null},"y":{"field":"p","type":"quantitative","scale":{"domain":[0.87415,0.9411],"nice":false,"zero":false},"axis":null}}},
{"data":{"name":"ma"},"transform":[{"filter":"datum.line == 'EMA50'"}],"mark":{"type":"line","color":"#30E4EC","strokeWidth":3,"interpolate":"monotone","clip":true},"encoding":{"x":{"field":"i","type":"quantitative","scale":{"domain":[-0.625,177.375],"nice":false,"zero":false},"axis":null},"y":{"field":"p","type":"quantitative","scale":{"domain":[0.87415,0.9411],"nice":false,"zero":false},"axis":null}}},
{"data":{"name":"ma"},"transform":[{"filter":"datum.line == 'EMA20'"}],"mark":{"type":"line","color":"#000000","strokeWidth":3,"interpolate":"monotone","clip":true},"encoding":{"x":{"field":"i","type":"quantitative","scale":{"domain":[-0.625,177.375],"nice":false,"zero":false},"axis":null},"y":{"field":"p","type":"quantitative","scale":{"domain":[0.87415,0.9411],"nice":false,"zero":false},"axis":null}}},
{"data":{"name":"trend"},"transform":[{"filter":"datum.line == 'chanA' || datum.line == 'chanB'"}],"mark":{"type":"line","color":"#33CC33","strokeWidth":2,"clip":true},"encoding":{"x":{"field":"i","type":"quantitative","scale":{"domain":[-0.625,177.375],"nice":false,"zero":false},"axis":null},"y":{"field":"p","type":"quantitative","scale":{"domain":[0.87415,0.9411],"nice":false,"zero":false},"axis":null},"detail":{"field":"line"}}},
{"data":{"name":"trend"},"transform":[{"filter":"datum.line == 'chanC'"}],"mark":{"type":"line","color":"#1E6E1E","strokeWidth":1,"strokeDash":[3,2],"clip":true},"encoding":{"x":{"field":"i","type":"quantitative","scale":{"domain":[-0.625,177.375],"nice":false,"zero":false},"axis":null},"y":{"field":"p","type":"quantitative","scale":{"domain":[0.87415,0.9411],"nice":false,"zero":false},"axis":null}}},
{"data":{"name":"header"},"mark":{"type":"text","align":"left","baseline":"middle","font":"Liberation Sans","fontSize":9.5,"color":"#000000"},"encoding":{"x":{"datum":0.5,"type":"quantitative","scale":{"domain":[-0.625,177.375],"nice":false,"zero":false},"axis":null},"y":{"datum":0.93962,"type":"quantitative","scale":{"domain":[0.87415,0.9411],"nice":false,"zero":false},"axis":null},"text":{"field":"t"}}},
{"data":{"name":"fib"},"mark":{"type":"text","align":"right","baseline":"bottom","color":"#2222CC","font":"Liberation Sans","fontSize":9.5},"encoding":{"x":{"datum":177.1,"type":"quantitative","scale":{"domain":[-0.625,177.375],"nice":false,"zero":false},"axis":null},"y":{"field":"p","type":"quantitative","scale":{"domain":[0.87415,0.9411],"nice":false,"zero":false},"axis":null},"text":{"field":"level"}}},
{"data":{"name":"covered"},"mark":{"type":"text","align":"left","baseline":"middle","font":"Liberation Sans","fontSize":9.5,"color":"#000000"},"encoding":{"x":{"datum":178.125,"type":"quantitative","scale":{"domain":[-0.625,177.375],"nice":false,"zero":false},"axis":null},"y":{"field":"p","type":"quantitative","scale":{"domain":[0.87415,0.9411],"nice":false,"zero":false},"axis":null},"text":{"field":"p","format":".5f"}}},
{"data":{"name":"levels"},"mark":{"type":"tick","orient":"horizontal","size":40,"thickness":10,"opacity":1},"encoding":{"x":{"datum":182.625,"type":"quantitative","scale":{"domain":[-0.625,177.375],"nice":false,"zero":false},"axis":null},"y":{"field":"p","type":"quantitative","scale":{"domain":[0.87415,0.9411],"nice":false,"zero":false},"axis":null},"fill":{"condition":{"test":"datum.kind == 'bid'","value":"#000000"},"value":"#A0A0A0"},"color":{"condition":{"test":"datum.kind == 'bid'","value":"#000000"},"value":"#A0A0A0"}}},
{"data":{"name":"levels"},"mark":{"type":"text","align":"left","baseline":"middle","font":"Liberation Sans","fontSize":9.5,"color":"#FFFFFF"},"encoding":{"x":{"datum":178.125,"type":"quantitative","scale":{"domain":[-0.625,177.375],"nice":false,"zero":false},"axis":null},"y":{"field":"p","type":"quantitative","scale":{"domain":[0.87415,0.9411],"nice":false,"zero":false},"axis":null},"text":{"field":"p","format":".5f"}}}
]
},
{
"width":712,"height":73,
"resolve":{"scale":{"y":"independent"},"axis":{"y":"independent"}},
"layer":[
{"data":{"name":"months"},"mark":{"type":"rule","color":"#000000","strokeWidth":1,"strokeDash":[3,3]},"encoding":{"x":{"field":"i","type":"quantitative","scale":{"domain":[-0.625,177.375],"nice":false,"zero":false},"axis":{"values":[0,16,32,48,64,80,96,112,128,144,160],"labelExpr":"['24 Jul 2020','17 Aug 2020','8 Sep 2020','30 Sep 2020','22 Oct 2020','12 Nov 2020','4 Dec 2020','29 Dec 2020','21 Jan 2021','12 Feb 2021','8 Mar 2021'][round(datum.value/16)]","labelAlign":"left","labelBaseline":"top","labelOffset":-3,"ticks":false,"labelPadding":4,"domain":false,"grid":false,"title":null,"labelFontSize":9.5,"labelFont":"Liberation Sans","labelColor":"#000000","labelOverlap":false,"labelFlush":false,"labelBound":false}}}},
{"data":{"name":"stochlevels"},"mark":{"type":"rule","color":"#A0A0A0","strokeWidth":1,"strokeDash":[4,3]},"encoding":{"y":{"field":"s","type":"quantitative","scale":{"domain":[0,104.2857],"nice":false,"zero":false},"axis":{"orient":"right","values":[92.86,80,20,11.43],"labels":false,"tickSize":2,"tickColor":"#000000","domain":false,"grid":false,"title":null}}}},
{"data":{"name":"zero"},"mark":{"type":"rule","color":"#909090","strokeWidth":1},"encoding":{"y":{"field":"v","type":"quantitative","scale":{"domain":[-0.003773,0.005257],"nice":false,"zero":false},"axis":null}}},
{"data":{"name":"osma"},"mark":{"type":"bar","size":3,"color":"#1EB4EB"},"encoding":{"x":{"field":"i","type":"quantitative","scale":{"domain":[-0.625,177.375],"nice":false,"zero":false}},"y":{"field":"v","type":"quantitative","scale":{"domain":[-0.003773,0.005257],"nice":false,"zero":false},"axis":null},"y2":{"datum":0}}},
{"data":{"name":"stoch"},"transform":[{"filter":"datum.line == 'signal'"}],"mark":{"type":"line","color":"#D00000","strokeWidth":1,"strokeDash":[3,2],"clip":true},"encoding":{"x":{"field":"i","type":"quantitative","scale":{"domain":[-0.625,177.375],"nice":false,"zero":false}},"y":{"field":"s","type":"quantitative","scale":{"domain":[0,104.2857],"nice":false,"zero":false},"axis":null}}},
{"data":{"name":"stoch"},"transform":[{"filter":"datum.line == 'main'"}],"mark":{"type":"line","color":"#000080","strokeWidth":1,"clip":true},"encoding":{"x":{"field":"i","type":"quantitative","scale":{"domain":[-0.625,177.375],"nice":false,"zero":false}},"y":{"field":"s","type":"quantitative","scale":{"domain":[0,104.2857],"nice":false,"zero":false},"axis":null}}},
{"data":{"name":"subheader"},"mark":{"type":"text","align":"left","baseline":"middle","font":"Liberation Sans","fontSize":9.5,"color":"#000000"},"encoding":{"x":{"datum":0.5,"type":"quantitative","scale":{"domain":[-0.625,177.375],"nice":false,"zero":false}},"y":{"datum":90,"type":"quantitative","scale":{"domain":[0,104.2857],"nice":false,"zero":false},"axis":null},"text":{"field":"t"}}},
{"data":{"name":"indlabels"},"mark":{"type":"text","align":"left","baseline":"middle","font":"Liberation Sans","fontSize":9,"color":"#000000","limit":43,"ellipsis":""},"encoding":{"x":{"datum":177.4,"type":"quantitative","scale":{"domain":[-0.625,177.375],"nice":false,"zero":false}},"y":{"field":"s","type":"quantitative","scale":{"domain":[0,104.2857],"nice":false,"zero":false},"axis":null},"text":{"field":"t"}}},
{"data":{"name":"zero"},"mark":{"type":"tick","orient":"horizontal","size":7,"thickness":11,"opacity":1},"encoding":{"x":{"datum":178.5,"type":"quantitative","scale":{"domain":[-0.625,177.375],"nice":false,"zero":false}},"y":{"field":"v","type":"quantitative","scale":{"domain":[-0.003773,0.005257],"nice":false,"zero":false},"axis":null},"fill":{"value":"#808080"},"color":{"value":"#808080"}}},
{"data":{"name":"zero"},"mark":{"type":"text","align":"left","baseline":"middle","font":"Liberation Sans","fontSize":9.5,"color":"#000000"},"encoding":{"x":{"datum":177.6,"type":"quantitative","scale":{"domain":[-0.625,177.375],"nice":false,"zero":false}},"y":{"field":"v","type":"quantitative","scale":{"domain":[-0.003773,0.005257],"nice":false,"zero":false},"axis":null},"text":{"value":"0.00"}}}
]
}
]
}
